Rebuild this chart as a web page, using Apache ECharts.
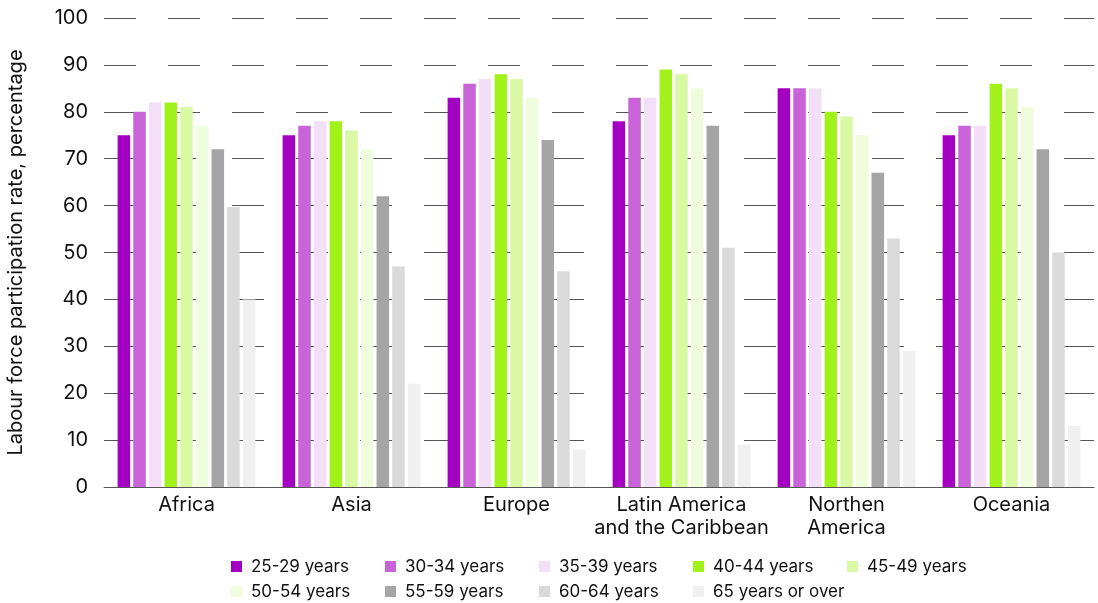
<!DOCTYPE html>
<html>
<head>
<meta charset="utf-8">
<script src="https://cdn.jsdelivr.net/npm/echarts@6/dist/echarts.min.js"></script>
<style>
  html, body { margin: 0; padding: 0; background: #fff; }
  #chart { width: 1098px; height: 603px; }
</style>
</head>
<body>
<div id="chart"></div>
<script>
const categories = ['Africa', 'Asia', 'Europe', 'Latin America\nand the Caribbean', 'Northen\nAmerica', 'Oceania'];
const seriesNames = ['25-29 years', '30-34 years', '35-39 years', '40-44 years', '45-49 years',
                     '50-54 years', '55-59 years', '60-64 years', '65 years or over'];
const age25_29 = [75, 75, 83, 78, 85, 75];
const age30_34 = [80, 77, 86, 83, 85, 77];
const age35_39 = [82, 78, 87, 83, 85, 77];
const age40_44 = [82, 78, 88, 89, 80, 86];
const age45_49 = [81, 76, 87, 88, 79, 85];
const age50_54 = [77, 72, 83, 85, 75, 81];
const age55_59 = [72, 62, 74, 77, 67, 72];
const age60_64 = [59.7, 47, 46, 51, 53, 50];
const age65plus = [40, 22, 8, 9, 29, 13];
const yTicks = [0, 10, 20, 30, 40, 50, 60, 70, 80, 90, 100];

const values = [age25_29, age30_34, age35_39, age40_44, age45_49, age50_54, age55_59, age60_64, age65plus];
const colors = ['#a400c1', '#c864d8', '#f3dff7', '#a0f21a', '#d9f9a5', '#f0fddd', '#a5a5a5', '#dadada', '#f0f0f0'];
const FONT = 'Inter, "Noto Sans", sans-serif';

const chart = echarts.init(document.getElementById('chart'), null, { renderer: 'canvas' });
chart.setOption({
  animation: false,
  color: colors,
  textStyle: { fontFamily: FONT },
  grid: { left: 104, right: 4, top: 18, bottom: 116, containLabel: false, outerBoundsMode: 'none' },
  legend: {
    left: 231, top: 558, width: 772, padding: 0,
    itemWidth: 11, itemHeight: 11, itemGap: 8,
    icon: 'rect',
    data: seriesNames,
    textStyle: { fontSize: 17, color: '#111', width: 126, lineHeight: 15, padding: [0, 0, 0, 4], fontFamily: FONT }
  },
  xAxis: {
    type: 'category',
    data: categories,
    axisLine: { show: true, lineStyle: { color: '#555', width: 1 } },
    axisTick: { show: false },
    axisLabel: { color: '#111', fontSize: 20, lineHeight: 23, margin: 6, fontFamily: FONT, interval: 0 }
  },
  yAxis: {
    type: 'value',
    min: 0, max: 100, interval: 10,
    name: 'Labour force participation rate, percentage',
    nameLocation: 'middle', nameGap: 78, nameRotate: 90,
    nameTextStyle: { color: '#111', fontSize: 20, fontFamily: FONT },
    axisLine: { show: false },
    axisTick: { show: false },
    axisLabel: { color: '#111', fontSize: 20, margin: 16, fontFamily: FONT,
      formatter: v => yTicks.indexOf(v) >= 0 ? String(v) : '' },
    splitLine: { show: true, lineStyle: { color: '#555', width: 1, type: [32, 32] } }
  },
  series: seriesNames.map((n, i) => ({
    name: n,
    type: 'bar',
    data: values[i],
    barGap: '25%',
    barCategoryGap: '16.5%',
    itemStyle: { color: colors[i] }
  }))
});
</script>
</body>
</html>
